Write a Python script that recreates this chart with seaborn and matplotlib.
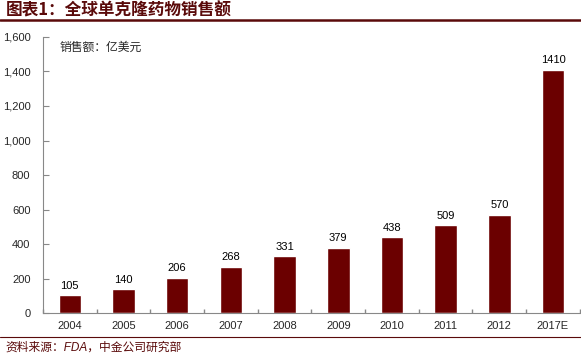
import pandas as pd
import matplotlib.pyplot as plt
import seaborn as sns
import numpy as np

years = ["2004", "2005", "2006", "2007", "2008", "2009", "2010", "2011", "2012", "2017E"]
sales = [105, 140, 206, 268, 331, 379, 438, 509, 570, 1410]
yticks = [0, 200, 400, 600, 800, 1000, 1200, 1400, 1600]

sns.set_theme(style="white")
plt.rcParams['font.family'] = ['Liberation Sans', 'Noto Sans CJK SC', 'DejaVu Sans']

df = pd.DataFrame({"year": years, "sales": sales})

fig = plt.figure(figsize=(5.81, 3.59), dpi=100)
ax = fig.add_axes([0.074, 0.128, 0.924, 0.769])
bar_color = "#6b0000"
sns.barplot(data=df, x="year", y="sales", color=bar_color, width=0.42,
            saturation=1, ax=ax)

for i, v in enumerate(sales):
    ax.text(i, v + 25, str(v), ha="center", va="bottom", fontsize=8, color="black")

ax.set_ylim(0, 1600)
ax.set_xlim(-0.5, len(years) - 0.5)
ax.set_yticks(yticks)
ax.set_yticklabels([f"{t:,}" for t in yticks], fontsize=8)
ax.tick_params(axis="x", labelsize=8, length=0, pad=6)
ax.tick_params(axis="y", length=4, direction="in", left=True, width=0.8, color="#888888", pad=9)
ax.set_xticks(np.arange(-0.5, len(years), 1), minor=True)
ax.tick_params(axis="x", which="minor", length=3, direction="in", bottom=True, color="#888888")
ax.set_xlabel("")
ax.set_ylabel("")
for s in ["top", "right"]:
    ax.spines[s].set_visible(False)
for s in ["left", "bottom"]:
    ax.spines[s].set_color("#888888")
    ax.spines[s].set_linewidth(0.8)

ax.text(0.03, 0.985, "销售额：亿美元", transform=ax.transAxes, fontsize=8.5,
        va="top", ha="left", family=['Noto Sans CJK SC', 'DejaVu Sans'])

title_color = "#5a0a0a"
fig.text(0.01, 0.972, "图表1：全球单克隆药物销售额", fontsize=12, color=title_color,
         va="center", ha="left", style="italic", weight="bold",
         family=['Noto Sans CJK SC', 'DejaVu Sans'])
fig.add_artist(plt.Line2D([0, 1], [0.943, 0.943], color=title_color, linewidth=1.8,
                          transform=fig.transFigure))
fig.add_artist(plt.Line2D([0, 1], [0.061, 0.061], color=title_color, linewidth=0.8,
                          transform=fig.transFigure))
fig.text(0.01, 0.031, "资料来源：FDA，中金公司研究部", fontsize=8.5, color=title_color,
         va="center", ha="left", style="italic",
         family=['Liberation Sans', 'Noto Sans CJK SC', 'DejaVu Sans'])

fig.savefig("out.png", dpi=100)
plt.close(fig)
